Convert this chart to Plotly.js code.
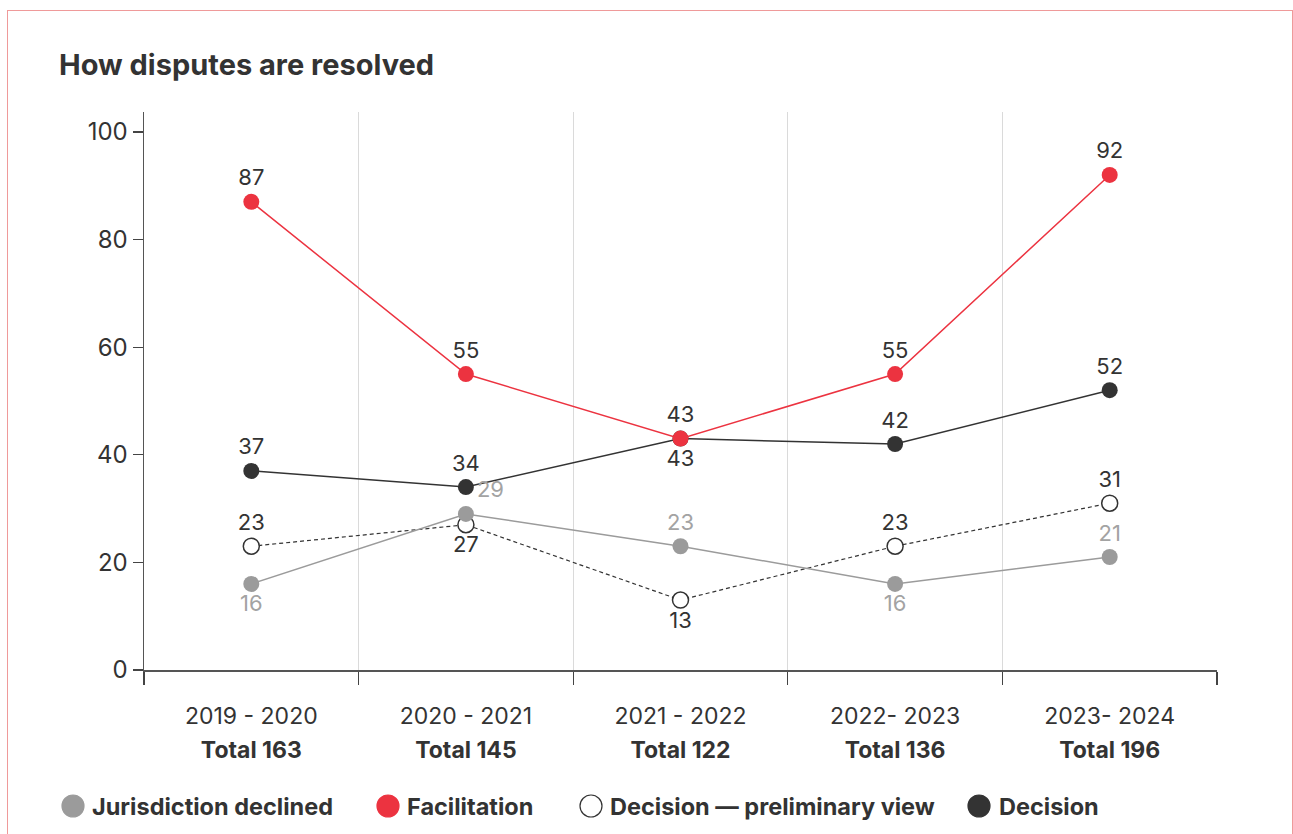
<!DOCTYPE html>
<html><head><meta charset="utf-8">
<script src="https://cdn.plot.ly/plotly-3.0.1.min.js"></script>
<style>
html,body{margin:0;padding:0;background:#fff;overflow:hidden}
#frame{position:absolute;left:7px;top:10px;width:1286px;height:900px;border:1.5px solid #ef9a9a;box-sizing:border-box}
#chart{position:absolute;left:0;top:0;width:1293px;height:834px}
</style></head><body>
<div id="frame"></div><div id="chart"></div>
<script>
// ---- data ----
const periods = ['2019 - 2020', '2020 - 2021', '2021 - 2022', '2022- 2023', '2023- 2024'];
const totals = [163, 145, 122, 136, 196];
const jurisdictionDeclined = [16, 29, 23, 16, 21];
const facilitation = [87, 55, 43, 55, 92];
const decisionPreliminary = [23, 27, 13, 23, 31];
const decision = [37, 34, 43, 42, 52];
const seriesNames = ['Jurisdiction declined', 'Facilitation', 'Decision \u2014 preliminary view', 'Decision'];
const chartTitle = 'How disputes are resolved';

// ---- styling ----
const RED = '#ec3340', DARK = '#333333', GREY = '#9b9b9b';
const W = 1293, H = 834, M = {l: 144, r: 76, t: 112, b: 164};
const PW = W - M.l - M.r, PH = H - M.t - M.b;
const px2x = px => (px - M.l) / PW;
const px2y = py => (H - M.b - py) / PH;
const labelFont = (c) => ({family: 'Inter, sans-serif', size: 22, color: c});
const tickText = periods.map((p, i) =>
  '<span style="font-size:23px">' + p + '</span><br><span style="font-size:23px"><b>Total ' + totals[i] + '</b></span>');

const traces = [
  {
    name: seriesNames[2], x: periods, y: decisionPreliminary, text: decisionPreliminary.map(String),
    mode: 'lines+markers+text', cliponaxis: false,
    line: {color: DARK, width: 1.2, dash: '4px,3px'},
    marker: {size: 16, color: '#ffffff', line: {color: DARK, width: 1.5}},
    textposition: ['top center', 'bottom center', 'bottom center', 'top center', 'top center'],
    textfont: labelFont(DARK), hoverinfo: 'y'
  },
  {
    name: seriesNames[3], x: periods, y: decision, text: decision.map(String),
    mode: 'lines+markers+text', cliponaxis: false,
    line: {color: DARK, width: 1.5},
    marker: {size: 16, color: DARK},
    textposition: ['top center', 'top center', 'bottom center', 'top center', 'top center'],
    textfont: labelFont(DARK), hoverinfo: 'y'
  },
  {
    name: seriesNames[0], x: periods, y: jurisdictionDeclined, text: jurisdictionDeclined.map(String),
    mode: 'lines+markers+text', cliponaxis: false,
    line: {color: GREY, width: 1.5},
    marker: {size: 16, color: GREY},
    textposition: ['bottom center', 'top right', 'top center', 'bottom center', 'top center'],
    textfont: labelFont('#a3a3a3'), hoverinfo: 'y'
  },
  {
    name: seriesNames[1], x: periods, y: facilitation, text: facilitation.map(String),
    mode: 'lines+markers+text', cliponaxis: false,
    line: {color: RED, width: 1.5},
    marker: {size: 16, color: RED},
    textposition: 'top center',
    textfont: labelFont(DARK), hoverinfo: 'y'
  }
];

// manual legend (big circle markers)
const legMarkerX = [73, 388, 591, 979];
const legTextX = [90, 405, 608, 997];
const legY = 806;
const legFill = [GREY, RED, '#ffffff', DARK];
const legLine = [GREY, RED, DARK, DARK];
const shapes = [], annotations = [];
seriesNames.forEach((n, i) => {
  shapes.push({
    type: 'circle', xref: 'paper', yref: 'paper', xsizemode: 'pixel', ysizemode: 'pixel',
    xanchor: px2x(legMarkerX[i]), yanchor: px2y(legY), x0: -11, x1: 11, y0: -11, y1: 11,
    fillcolor: legFill[i], line: {color: legLine[i], width: 1.2}
  });
  annotations.push({
    xref: 'paper', yref: 'paper', x: px2x(legTextX[i]), y: px2y(legY),
    xanchor: 'left', yanchor: 'middle', showarrow: false,
    text: '<b>' + n + '</b>', font: {family: 'Inter, sans-serif', size: 23.5, color: DARK}
  });
});

const layout = {
  width: W, height: H, margin: M,
  paper_bgcolor: 'rgba(0,0,0,0)', plot_bgcolor: 'rgba(0,0,0,0)',
  showlegend: false,
  font: {family: 'Inter, sans-serif', color: DARK},
  title: {
    text: '<b>' + chartTitle + '</b>', xref: 'container', yref: 'container',
    x: 59 / W, xanchor: 'left', y: 1 - 65 / H, yanchor: 'middle',
    font: {family: 'Inter, sans-serif', size: 29, color: DARK}
  },
  xaxis: {
    type: 'category', range: [-0.5, 4.5], tickson: 'boundaries',
    tickvals: periods, ticktext: tickText,
    ticks: 'outside', ticklen: 13, tickcolor: '#444', tickwidth: 1.2,
    ticklabelstandoff: 21,
    showgrid: true, gridcolor: '#dadada', gridwidth: 1,
    showline: true, linecolor: '#555', linewidth: 1.5, zeroline: false,
    tickfont: {family: 'Inter, sans-serif', size: 26, color: DARK}, fixedrange: true
  },
  yaxis: {
    range: [0, 103.7], tickvals: [0, 20, 40, 60, 80, 100],
    ticks: 'outside', ticklen: 10, tickcolor: '#444', tickwidth: 1.2,
    showline: true, linecolor: '#555', linewidth: 1.5, showgrid: false, zeroline: false,
    tickfont: {family: 'Inter, sans-serif', size: 24, color: DARK}, fixedrange: true
  },
  shapes: shapes, annotations: annotations
};

Plotly.newPlot('chart', traces, layout, {displayModeBar: false, staticPlot: true});
</script>
</body></html>
